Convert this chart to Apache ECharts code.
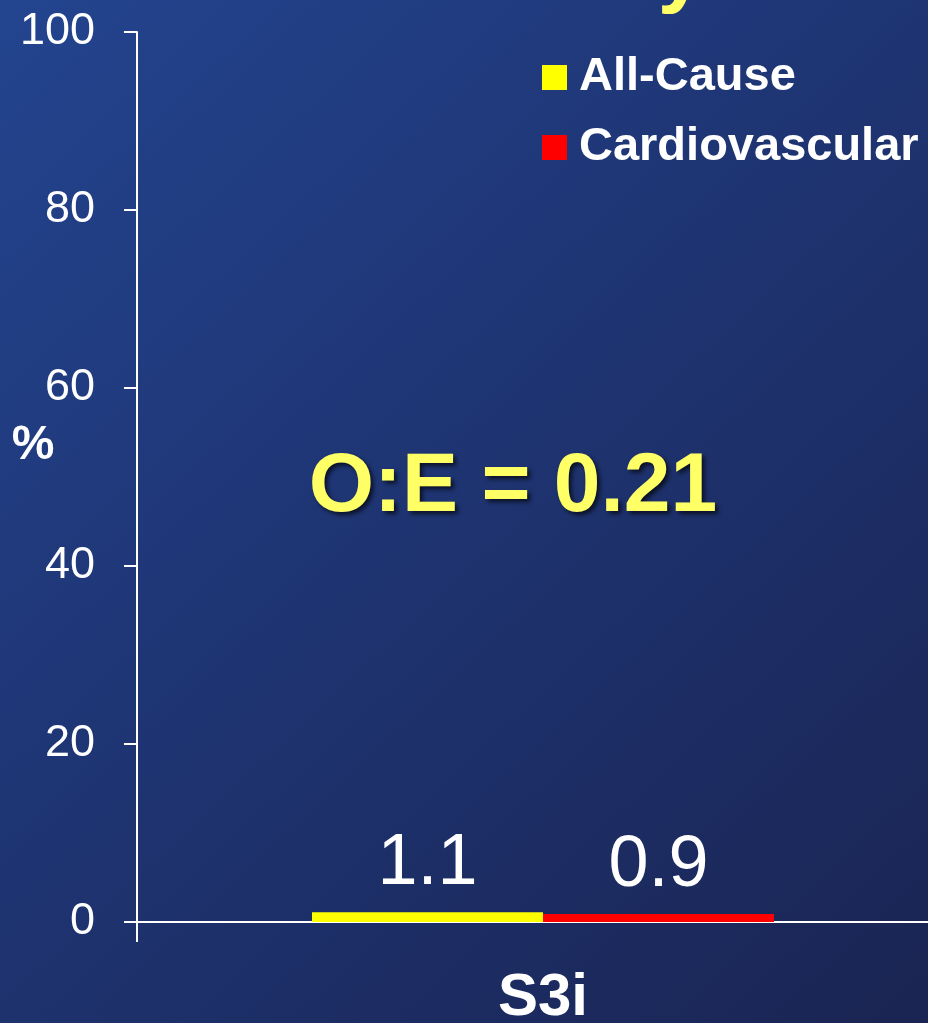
<!DOCTYPE html>
<html>
<head>
<meta charset="utf-8">
<style>
  html, body { margin: 0; padding: 0; overflow: hidden; }
  #chart { width: 949px; height: 1023px; }
</style>
<script src="https://cdn.jsdelivr.net/npm/echarts@6/dist/echarts.min.js"></script>
</head>
<body>
<div id="chart"></div>
<script>
// Event rates (%) for the S3i group
const categories = ['S3i'];
const allCauseValues = [1.1];
const cardiovascularValues = [0.9];
const seriesNames = ['All-Cause', 'Cardiovascular'];
const yTicks = { min: 0, max: 100, interval: 20 };
const titleText = 'Mortality';
const ratioText = 'O:E = 0.21';
const yAxisTitle = '%';

const FONT = '"Liberation Sans", Arial, Helvetica, sans-serif';

const chart = echarts.init(document.getElementById('chart'), null, { renderer: 'canvas' });

const barLabel = {
  show: true,
  position: 'top',
  distance: 12,
  color: '#ffffff',
  fontFamily: FONT,
  fontSize: 72,
  fontWeight: 'normal'
};

chart.setOption({
  animation: false,
  backgroundColor: {
    type: 'linear', x: 0, y: 0, x2: 1, y2: 1,
    colorStops: [
      { offset: 0, color: '#23448f' },
      { offset: 0.5, color: '#1e3370' },
      { offset: 1, color: '#1a2452' }
    ]
  },
  grid: {
    left: 137, right: 0, top: 32, bottom: 101,
    containLabel: false,
    outerBoundsMode: 'none'
  },
  legend: {
    orient: 'vertical',
    left: 537,
    top: 49,
    itemWidth: 25,
    itemHeight: 25,
    itemGap: 23,
    icon: 'rect',
    data: seriesNames,
    textStyle: {
      color: '#ffffff',
      fontFamily: FONT,
      fontSize: 47,
      fontWeight: 'bold',
      padding: [0, 0, 0, 7]
    }
  },
  xAxis: {
    type: 'category',
    data: categories,
    axisLine: { show: true, lineStyle: { color: '#ffffff', width: 2 } },
    axisTick: { show: true, length: 20, lineStyle: { color: '#ffffff', width: 2 } },
    axisLabel: {
      color: '#ffffff',
      fontFamily: FONT,
      fontSize: 60,
      fontWeight: 'bold',
      margin: 46
    },
    splitLine: { show: false }
  },
  yAxis: {
    type: 'value',
    min: yTicks.min,
    max: yTicks.max,
    interval: yTicks.interval,
    axisLine: { show: true, lineStyle: { color: '#ffffff', width: 2 } },
    axisTick: { show: true, length: 13, lineStyle: { color: '#ffffff', width: 2 } },
    axisLabel: {
      color: '#ffffff',
      fontFamily: FONT,
      fontSize: 45,
      margin: 42
    },
    splitLine: { show: false }
  },
  series: [
    {
      name: seriesNames[0],
      type: 'bar',
      data: allCauseValues,
      barWidth: 231,
      barGap: '0%',
      itemStyle: { color: '#ffff00' },
      label: barLabel
    },
    {
      name: seriesNames[1],
      type: 'bar',
      data: cardiovascularValues,
      barWidth: 231,
      barGap: '0%',
      itemStyle: { color: '#ff0000' },
      label: barLabel
    }
  ],
  graphic: [
    {
      type: 'text',
      x: 705,
      y: 15,
      style: {
        text: titleText,
        fill: '#ffff66',
        font: 'bold 85px ' + FONT,
        align: 'right',
        verticalAlign: 'bottom'
      }
    },
    {
      type: 'text',
      x: 513,
      y: 488,
      style: {
        text: ratioText,
        fill: '#ffff66',
        font: 'bold 84px ' + FONT,
        align: 'center',
        verticalAlign: 'middle',
        textShadowColor: 'rgba(0, 0, 0, 0.65)',
        textShadowOffsetX: 3,
        textShadowOffsetY: 3,
        textShadowBlur: 4
      }
    },
    {
      type: 'text',
      x: 33,
      y: 446,
      style: {
        text: yAxisTitle,
        fill: '#ffffff',
        font: 'bold 48px ' + FONT,
        align: 'center',
        verticalAlign: 'middle'
      }
    }
  ]
});
</script>
</body>
</html>
